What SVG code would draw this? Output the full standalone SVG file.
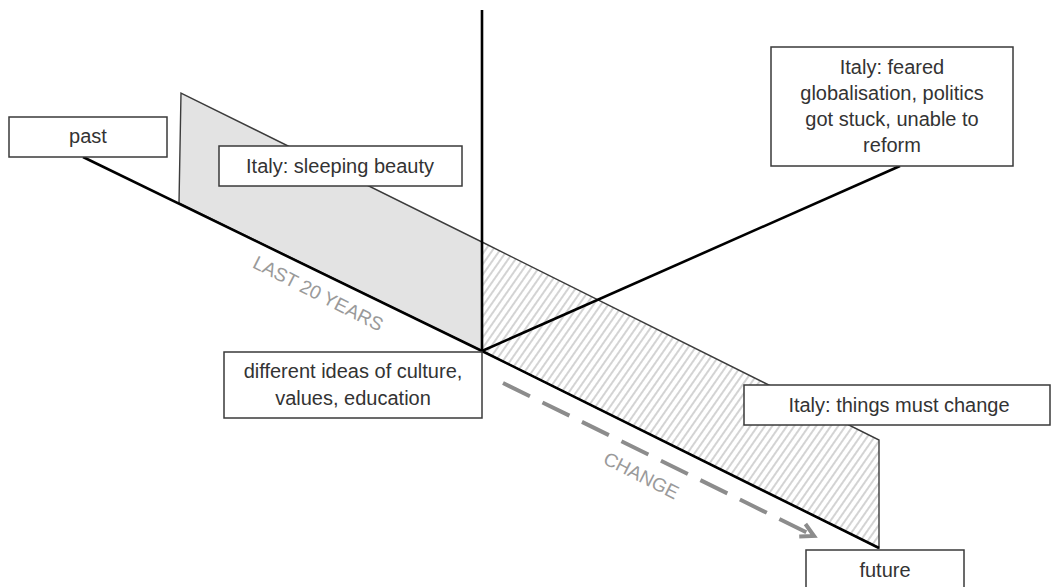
<svg xmlns="http://www.w3.org/2000/svg" width="1053" height="587" viewBox="0 0 1053 587">
  <style>
    .box rect { fill: #ffffff; stroke: #3a3a3a; stroke-width: 1.5; }
    .box text { font-family: "Liberation Sans", Arial, sans-serif; font-size: 20px; fill: #333333; text-anchor: middle; }
    .axis { stroke: #000000; stroke-width: 2.6; fill: none; stroke-linecap: butt; }
    .plane { stroke: #3c3c3c; stroke-width: 1.4; }
    .note { font-family: "Liberation Sans", Arial, sans-serif; font-size: 19px; fill: #9a9a9a; }
  </style>
  <defs>
    <pattern id="hatch" patternUnits="userSpaceOnUse" width="6" height="6" patternTransform="rotate(35)">
      <rect width="6" height="6" fill="#ffffff"/>
      <line x1="1" y1="0" x2="1" y2="6" stroke="#c9c9c9" stroke-width="1.6"/>
    </pattern>
    <marker id="chevron" viewBox="0 0 20 20" markerUnits="userSpaceOnUse" markerWidth="20" markerHeight="20" refX="16" refY="10" orient="auto">
      <path d="M3,3 L16,10 L3,17" fill="none" stroke="#8c8c8c" stroke-width="4"/>
    </marker>
  </defs>

  <!-- planes -->
  <g id="planes">
    <polygon id="plane-past" class="plane" points="181,93 179,203 482,351 482,242" fill="#e3e3e3"/>
    <polygon id="plane-future" class="plane" points="482,242 482,351 879,548 879,440" fill="url(#hatch)"/>
  </g>

  <!-- axes and arrow -->
  <g id="connectors">
    <line class="axis" x1="83" y1="157" x2="482" y2="351"/>
    <line class="axis" x1="482" y1="351" x2="879" y2="548"/>
    <line class="axis" x1="482" y1="10" x2="482" y2="351"/>
    <line class="axis" x1="482" y1="351" x2="900" y2="166"/>
    <line x1="503" y1="383" x2="814" y2="536" stroke="#8c8c8c" stroke-width="4" stroke-dasharray="30 14" marker-end="url(#chevron)"/>
  </g>

  <!-- axis labels -->
  <text class="note" transform="translate(318,294) rotate(27)" text-anchor="middle" dy="6">LAST 20 YEARS</text>
  <text class="note" transform="translate(641,476) rotate(27)" text-anchor="middle" dy="6">CHANGE</text>

  <!-- nodes -->
  <g id="past" class="box">
    <rect x="9" y="117" width="158" height="40"/>
    <text x="88" y="143">past</text>
  </g>
  <g id="sleeping-beauty" class="box">
    <rect x="219" y="146" width="243" height="40"/>
    <text x="340" y="173">Italy: sleeping beauty</text>
  </g>
  <g id="feared" class="box">
    <rect x="771" y="47" width="242" height="119"/>
    <text x="892" y="74">Italy: feared</text>
    <text x="892" y="100">globalisation, politics</text>
    <text x="892" y="126">got stuck, unable to</text>
    <text x="892" y="152">reform</text>
  </g>
  <g id="ideas" class="box">
    <rect x="224" y="352" width="258" height="66"/>
    <text x="353" y="378">different ideas of culture,</text>
    <text x="353" y="405">values, education</text>
  </g>
  <g id="things-change" class="box">
    <rect x="744" y="385" width="306" height="40"/>
    <text x="899" y="412">Italy: things must change</text>
  </g>
  <g id="future" class="box">
    <rect x="806" y="550" width="158" height="40"/>
    <text x="885" y="577">future</text>
  </g>
</svg>
